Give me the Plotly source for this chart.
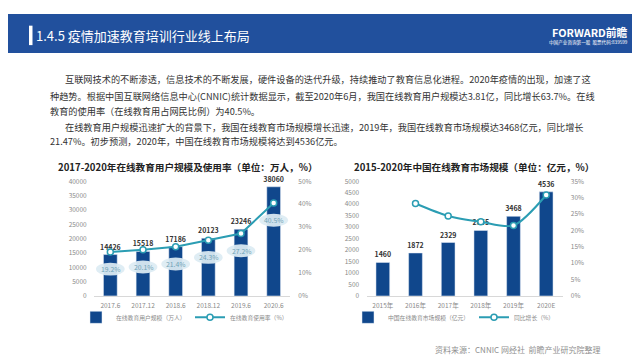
import plotly.graph_objects as go

# ---------------- data ----------------
user_periods = ["2017.6", "2017.12", "2018.6", "2018.12", "2019.6", "2020.6"]
user_scale = [14426, 15518, 17186, 20123, 23246, 38060]          # 万人
usage_rate = [19.2, 20.1, 21.4, 24.3, 27.2, 40.5]                 # %

market_years = ["2015年", "2016年", "2017年", "2018年", "2019年", "2020E"]
market_size = [1460, 1872, 2329, 2855, 3468, 4536]                # 亿元
market_growth = [None, 28.2, 24.4, 22.6, 21.5, 30.8]              # %

header_title = "1.4.5 疫情加速教育培训行业线上布局"
para_lines = [
    "互联网技术的不断渗透，信息技术的不断发展，硬件设备的迭代升级，持续推动了教育信息化进程。2020年疫情的出现，加速了这",
    "种趋势。根据中国互联网络信息中心(CNNIC)统计数据显示，截至2020年6月，我国在线教育用户规模达3.81亿，同比增长63.7%。在线",
    "教育的使用率（在线教育用占网民比例）为40.5%。",
    "在线教育用户规模迅速扩大的背景下，我国在线教育市场规模增长迅速，2019年，我国在线教育市场规模达3468亿元，同比增长",
    "21.47%。初步预测，2020年，中国在线教育市场规模将达到4536亿元。",
]
left_title = "2017-2020年在线教育用户规模及使用率（单位：万人，%）"
right_title = "2015-2020年中国在线教育市场规模（单位：亿元，%）"
source_text = "资料来源：CNNIC 网经社  前瞻产业研究院整理"

# ---------------- style ----------------
FONT = "Noto Sans CJK SC"
NAVY = "#10478c"
TEAL = "#2b9db3"
HEADER = "#21509d"
TICK = dict(family=FONT, size=6.5, color="#8a8a8a")
W, H = 640, 360

def px_x(v):
    return v / W

def px_y(v):
    return 1 - v / H

fig = go.Figure()

bar_text_font = dict(family=FONT, size=7, color="#333333", weight="bold")

# left chart
fig.add_trace(go.Bar(
    x=user_periods, y=user_scale, name="在线教育用户规模（万人）",
    marker=dict(color=NAVY), width=0.42,
    text=[str(v) for v in user_scale], textposition="outside", constraintext="none",
    textfont=bar_text_font,
    cliponaxis=False, xaxis="x", yaxis="y", legend="legend",
))
fig.add_trace(go.Scatter(
    x=user_periods, y=usage_rate, name="在线教育使用率（%）", mode="lines+markers",
    line=dict(color=TEAL, width=2),
    marker=dict(size=6, color="white", line=dict(color=TEAL, width=1.5)),
    xaxis="x", yaxis="y2", legend="legend2", cliponaxis=False,
))

# right chart
fig.add_trace(go.Bar(
    x=market_years, y=market_size, name="中国在线教育市场规模（亿元）",
    marker=dict(color=NAVY), width=0.42,
    text=[str(v) for v in market_size], textposition="outside", constraintext="none",
    textfont=bar_text_font,
    cliponaxis=False, xaxis="x2", yaxis="y3", legend="legend3",
))
fig.add_trace(go.Scatter(
    x=market_years, y=market_growth, name="同比增长（%）", mode="lines+markers",
    line=dict(color=TEAL, width=2, shape="spline", smoothing=0.8),
    marker=dict(size=6, color="white", line=dict(color=TEAL, width=1.5)),
    xaxis="x2", yaxis="y4", legend="legend4", cliponaxis=False,
))

shapes = []
annotations = []

# header bar
shapes.append(dict(type="rect", xref="paper", yref="paper", x0=0, x1=1,
                   y0=px_y(40), y1=1, fillcolor=HEADER, line=dict(width=0), layer="below"))
shapes.append(dict(type="rect", xref="paper", yref="paper", x0=px_x(21), x1=px_x(24.5),
                   y0=px_y(32), y1=px_y(12), fillcolor="white", line=dict(width=0)))
annotations.append(dict(text=header_title, xref="paper", yref="paper", x=px_x(26), y=px_y(22.5),
                        xanchor="left", yanchor="middle", showarrow=False,
                        font=dict(family=FONT, size=13, color="white")))
annotations.append(dict(text="<b>FORWARD前瞻</b>", xref="paper", yref="paper", x=px_x(622), y=px_y(18),
                        xanchor="right", yanchor="middle", showarrow=False,
                        font=dict(family=FONT, size=10.8, color="white")))
annotations.append(dict(text="中国产业咨询第一股  股票代码:839599", xref="paper", yref="paper",
                        x=px_x(622), y=px_y(29.5), xanchor="right", yanchor="middle", showarrow=False,
                        font=dict(family=FONT, size=4.6, color="white")))

# paragraph text
para_y = [67, 84, 100, 116, 131]
para_x = [55, 40, 40, 55, 40]
for t, yy, xx in zip(para_lines, para_y, para_x):
    annotations.append(dict(text=t, xref="paper", yref="paper", x=px_x(xx), y=px_y(yy),
                            xanchor="left", yanchor="middle", showarrow=False,
                            font=dict(family=FONT, size=9.2, color="#333333")))

# chart titles
annotations.append(dict(text="<b>" + left_title + "</b>", xref="paper", yref="paper",
                        x=px_x(180), y=px_y(157), xanchor="center", yanchor="middle", showarrow=False,
                        font=dict(family=FONT, size=9.6, color="#222222")))
annotations.append(dict(text="<b>" + right_title + "</b>", xref="paper", yref="paper",
                        x=px_x(466), y=px_y(157), xanchor="center", yanchor="middle", showarrow=False,
                        font=dict(family=FONT, size=9.6, color="#222222")))

# ellipse labels for usage rate (positioned from the data values)
LABEL_OFF = 7.5
for i, v in enumerate(usage_rate):
    c = v - LABEL_OFF
    shapes.append(dict(type="circle", xref="x", yref="y2", x0=i - 0.44, x1=i + 0.44,
                       y0=c - 2.8, y1=c + 2.8, fillcolor="rgba(221,236,243,0.93)",
                       line=dict(width=0), layer="above"))
    annotations.append(dict(text=f"{v}%", xref="x", yref="y2", x=i, y=c,
                            showarrow=False, xanchor="center", yanchor="middle",
                            font=dict(family=FONT, size=6.8, color="#6fa3b6")))

# source
annotations.append(dict(text=source_text, xref="paper", yref="paper", x=px_x(595), y=px_y(345),
                        xanchor="right", yanchor="middle", showarrow=False,
                        font=dict(family=FONT, size=8, color="#8f8f8f")))

axis_common = dict(showgrid=False, zeroline=False, tickfont=TICK)

def legend_at(xpx):
    return dict(orientation="h", x=px_x(xpx), y=px_y(312), xanchor="left", yanchor="middle",
                font=dict(family=FONT, size=5.8, color="#8a8a8a"), itemwidth=30,
                bgcolor="rgba(0,0,0,0)")

fig.update_layout(
    width=W, height=H,
    margin=dict(l=0, r=0, t=0, b=0),
    paper_bgcolor="white", plot_bgcolor="white",
    font=dict(family=FONT),
    showlegend=True,
    barmode="group",
    xaxis=dict(domain=[px_x(86), px_x(282)], anchor="y", type="category", range=[-0.5, 5.5],
               showline=True, linecolor="#d8d8d8", linewidth=1,
               ticks="outside", ticklen=3, tickcolor="rgba(0,0,0,0)", **axis_common),
    yaxis=dict(domain=[px_y(290), px_y(172)], anchor="x", range=[0, 40000], dtick=5000,
               tickformat="d",
               ticks="outside", ticklen=5, tickcolor="rgba(0,0,0,0)", **axis_common),
    yaxis2=dict(overlaying="y", anchor="x", side="right", range=[0, 50], dtick=10,
                ticksuffix="%", ticks="outside", ticklen=6, tickcolor="rgba(0,0,0,0)", **axis_common),
    xaxis2=dict(domain=[px_x(358.5), px_x(554.5)], anchor="y3", type="category", range=[-0.5, 5.5],
                showline=True, linecolor="#d8d8d8", linewidth=1,
                ticks="outside", ticklen=3, tickcolor="rgba(0,0,0,0)", **axis_common),
    yaxis3=dict(domain=[px_y(290), px_y(172)], anchor="x2", range=[0, 5000], dtick=500,
                tickformat="d",
                ticks="outside", ticklen=5, tickcolor="rgba(0,0,0,0)", **axis_common),
    yaxis4=dict(overlaying="y3", anchor="x2", side="right", range=[0, 35], dtick=5,
                ticksuffix="%", ticks="outside", ticklen=6, tickcolor="rgba(0,0,0,0)", **axis_common),
    legend=legend_at(68),
    legend2=legend_at(182),
    legend3=legend_at(340),
    legend4=legend_at(466),
    shapes=shapes,
    annotations=annotations,
)

fig.write_html("out.html")
